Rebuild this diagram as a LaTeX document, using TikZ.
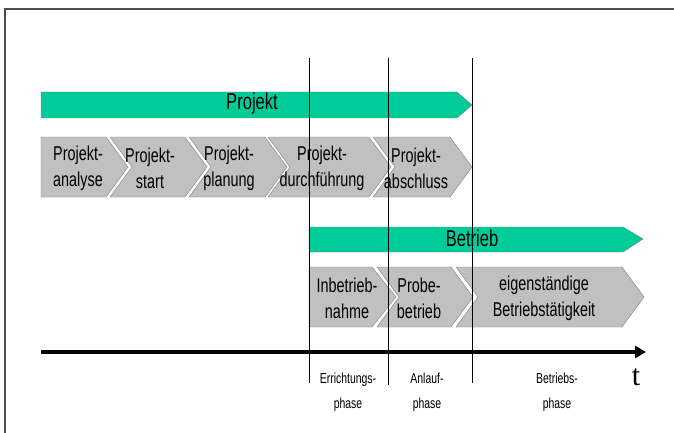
\documentclass[tikz,border=0pt]{standalone}
\usepackage{fontspec}
\setmainfont{Liberation Sans}[FakeStretch=0.72]
\newfontfamily\serifT{Liberation Serif}
\usepackage{tikz}
\usetikzlibrary{arrows.meta}
\definecolor{barGreen}{RGB}{0,204,153}
\definecolor{chevGray}{RGB}{192,192,192}
\definecolor{edgeGray}{RGB}{128,128,128}
% chevron with notched left edge, between #1 (left) and #2 (top right corner)
\newcommand{\chev}[2]{\filldraw[fill=chevGray,draw=edgeGray] (#1,-30) -- (#2,-30) -- ++(22,30) -- ++(-22,30) -- (#1,30) -- ++(22,-30) -- cycle;}
\tikzset{
  lbl/.style={align=center,font=\fontsize{20}{26}\selectfont},
  barlbl/.style={font=\fontsize{23}{24}\selectfont},
  phase/.style={align=center,font=\fontsize{14.5}{25}\selectfont}
}

\begin{document}
\begin{tikzpicture}[x=1pt,y=-1pt]
\useasboundingbox (0,0) rectangle (674,433);
\draw[line width=1.5pt,black!70] (5,433) -- (5,9) -- (674,9);
% Projekt
\filldraw[fill=barGreen,draw=edgeGray] (41,92) -- (457,92) -- (472,105) -- (457,118) -- (41,118) -- cycle;
\node[barlbl] (projekt) at (252,104) {Projekt};
\begin{scope}[shift={(0,167)}]
\filldraw[fill=chevGray,draw=edgeGray] (41,-30) -- (106,-30) -- ++(22,30) -- ++(-22,30) -- (41,30) -- cycle;
\chev{110}{185}
\chev{189}{265}
\chev{268}{369}
\chev{373}{450}
\node[lbl] (analyse) at (78,1) {Projekt-\\analyse};
\node[lbl] (start) at (150,1) {Projekt-\\start};
\node[lbl] (planung) at (229,1) {Projekt-\\planung};
\node[lbl] (durchf) at (322,1) {Projekt-\\durchführung};
\node[lbl] (abschluss) at (416,1) {Projekt-\\abschluss};
\end{scope}
% Betrieb
\filldraw[fill=barGreen,draw=edgeGray] (309,227) -- (623,227) -- (643,239) -- (623,252) -- (309,252) -- cycle;
\node[barlbl] (betrieb) at (472,238) {Betrieb};
\begin{scope}[shift={(0,297)}]
\filldraw[fill=chevGray,draw=edgeGray] (309,-30) -- (372,-30) -- ++(24,30) -- ++(-24,30) -- (309,30) -- cycle;
\chev{377}{451}
\chev{456}{622}
\node[lbl] (inbetrieb) at (347,1) {Inbetrieb-\\nahme};
\node[lbl] (probe) at (419,1) {Probe-\\betrieb};
\node[lbl] (eigen) at (544,1) {eigenständige\\Betriebstätigkeit};
\end{scope}
% Zeitachse
\draw[line width=3.5pt,-{Triangle[length=11pt,width=12pt]}] (41,352) -- (646,352);
\node[font=\serifT\fontsize{30}{30}\selectfont] (t) at (636,377) {t};
\draw (309,58) -- (309,383);
\draw (388,58) -- (388,385);
\draw (472,58) -- (472,383);
\node[phase] (errichtung) at (348,392) {Errichtungs-\\phase};
\node[phase] (anlauf) at (427,392) {Anlauf-\\phase};
\node[phase] (betriebsph) at (557,392) {Betriebs-\\phase};
\end{tikzpicture}
\end{document}
